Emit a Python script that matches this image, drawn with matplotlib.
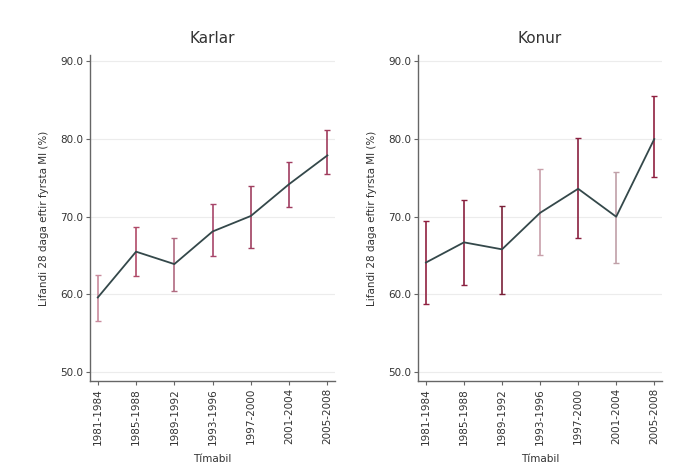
import matplotlib
matplotlib.use("Agg")
import matplotlib.pyplot as plt
import numpy as np

periods = ["1981-1984", "1985-1988", "1989-1992", "1993-1996",
           "1997-2000", "2001-2004", "2005-2008"]

karlar_mean = [59.6, 65.5, 63.9, 68.1, 70.1, 74.2, 77.9]
karlar_low = [56.6, 62.4, 60.4, 64.9, 66.0, 71.2, 75.5]
karlar_high = [62.5, 68.7, 67.2, 71.6, 74.0, 77.1, 81.2]

konur_mean = [64.1, 66.7, 65.8, 70.5, 73.6, 70.0, 80.0]
konur_low = [58.8, 61.2, 60.0, 65.1, 67.2, 64.1, 75.1]
konur_high = [69.4, 72.2, 71.4, 76.2, 80.2, 75.8, 85.6]

karlar_err_colors = ["#c98a9c", "#b04a68", "#b06a80", "#a8456a", "#a04060", "#a03c60", "#a03c5c"]
konur_err_colors = ["#902040", "#8a2040", "#7a2038", "#c8a0aa", "#8a2040", "#c0a0a8", "#902040"]

yticks = [50, 60, 70, 80, 90]

fig = plt.figure(figsize=(6.88, 4.68), dpi=100)
ax1 = fig.add_axes([0.131, 0.186, 0.356, 0.696])
ax2 = fig.add_axes([0.608, 0.186, 0.354, 0.696])

def draw(ax, title, mean, low, high, ecolors):
    x = np.arange(len(periods))
    for i in range(len(x)):
        ax.errorbar(x[i], mean[i],
                    yerr=[[mean[i] - low[i]], [high[i] - mean[i]]],
                    fmt="none", ecolor=ecolors[i], elinewidth=1.2,
                    capsize=2.5, capthick=1.0, zorder=2)
    ax.plot(x, mean, color="#34484a", lw=1.3, zorder=3)
    ax.set_xlim(-0.2, 6.2)
    ax.set_ylim(48.85, 90.8)
    ax.set_yticks(yticks)
    ax.set_yticklabels([f"{v:.1f}" for v in yticks], fontsize=7.5, color="#333333")
    ax.set_xticks(x)
    ax.set_xticklabels(periods, rotation=90, fontsize=7.5, color="#333333")
    ax.grid(axis="y", color="#ececec", lw=0.8)
    ax.set_axisbelow(True)
    for s in ["top", "right"]:
        ax.spines[s].set_visible(False)
    for s in ["left", "bottom"]:
        ax.spines[s].set_color("#666666")
        ax.spines[s].set_linewidth(1.0)
    ax.tick_params(length=3, width=0.8, color="#666666", pad=2)
    ax.set_title(title, fontsize=11, color="#333333", pad=9)
    ax.set_xlabel("Tímabil", fontsize=7.5, color="#333333", labelpad=7)
    ax.set_ylabel("Lifandi 28 daga eftir fyrsta MI (%)", fontsize=7.5, color="#333333", labelpad=8)

draw(ax1, "Karlar", karlar_mean, karlar_low, karlar_high, karlar_err_colors)
draw(ax2, "Konur", konur_mean, konur_low, konur_high, konur_err_colors)

fig.savefig("out.png", dpi=100, facecolor="white")
